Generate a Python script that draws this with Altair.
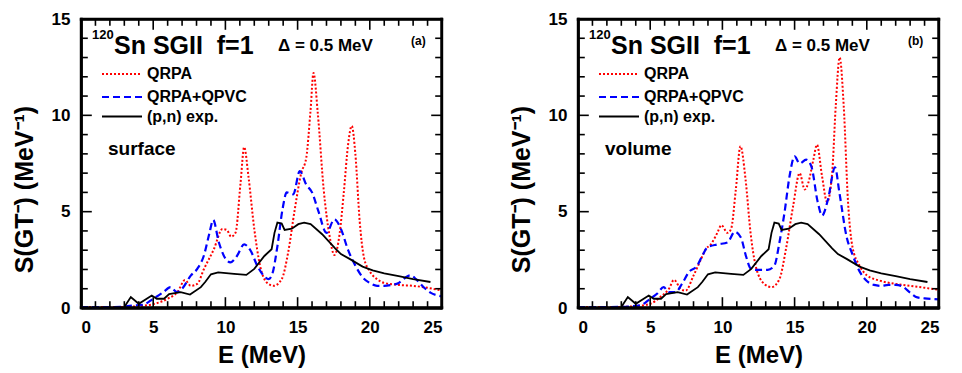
import altair as alt
import pandas as pd

# ---------------- data ----------------
# (a) surface pairing
E_qrpa_a = [0, 1, 2, 3, 4, 5, 6, 6.7, 7.2, 7.6, 8.05, 8.5, 9.2, 9.8, 10.1, 10.4, 10.7, 11.05, 11.3, 11.6,
            12.0, 12.4, 12.9, 13.35, 13.9, 14.35, 14.8, 15.25, 15.6, 15.9, 16.1, 16.4, 16.8, 17.2, 17.55,
            17.9, 18.2, 18.5, 18.75, 19.0, 19.3, 19.6, 20.0, 20.5, 21.0, 22.0, 23.0, 24.0, 25.0]
S_qrpa_a = [0.05, 0.05, 0.05, 0.06, 0.1, 0.2, 0.48, 0.85, 1.45, 1.15, 1.25, 2.0, 3.05, 4.1, 4.05, 3.7, 3.9, 6.5, 8.35, 6.8,
            4.1, 2.2, 1.3, 1.15, 1.5, 2.9, 5.1, 7.0, 7.8, 10.3, 12.2, 10.1, 6.2, 3.8, 2.75,
            3.8, 6.0, 8.5, 9.45, 8.0, 4.5, 2.6, 1.9, 1.5, 1.3, 1.2, 1.15, 1.05, 0.9]

E_qpvc_a = [0, 1, 2, 3, 3.2, 4.3, 5.0, 5.7, 6.2, 6.65, 7.0, 7.6, 8.05, 8.5, 8.9, 9.15, 9.55, 9.9, 10.35,
            10.8, 11.3, 11.75, 12.2, 12.65, 13.0, 13.25, 13.6, 13.95, 14.25, 14.7, 15.15, 15.6, 16.0,
            16.45, 17.0, 17.55, 18.0, 18.5, 19.0, 19.5, 20.0, 20.5, 21.0, 21.5, 22.0, 22.5, 22.8, 23.2,
            23.7, 24.2, 25.0]
S_qpvc_a = [0.05, 0.05, 0.05, 0.06, 0.1, 0.17, 0.48, 0.82, 1.08, 0.82, 1.0, 1.68, 2.03, 2.7, 3.9, 4.57, 3.4, 2.7, 2.37,
            2.7, 3.3, 2.97, 2.2, 1.68, 1.5, 1.77, 3.2, 5.1, 6.0, 5.9, 7.1, 6.4, 6.0,
            5.0, 3.9, 4.6, 4.1, 3.0, 2.2, 1.6, 1.3, 1.15, 1.15, 1.2, 1.3, 1.6, 1.7, 1.5,
            1.1, 0.8, 0.6]

# (b) volume pairing
E_qrpa_b = [0, 1, 2, 3, 4, 5, 5.7, 6.3, 6.65, 7.1, 7.45, 8.0, 8.5, 8.85, 9.2, 9.65, 9.93, 10.35, 10.6,
            10.93, 11.25, 11.6, 11.95, 12.3, 12.9, 13.4, 13.95, 14.4, 14.9, 15.35, 15.7, 15.95, 16.3,
            16.55, 16.9, 17.25, 17.6, 17.85, 18.12, 18.4, 18.7, 19.0, 19.5, 20.0, 21.0, 22.0, 23.0,
            24.0, 25.0]
S_qrpa_b = [0.05, 0.05, 0.05, 0.06, 0.1, 0.22, 0.57, 1.0, 1.46, 1.0, 0.9, 1.68, 2.5, 3.05, 3.3, 3.9, 4.3, 3.9, 4.1,
            6.15, 8.4, 6.7, 3.9, 2.2, 1.25, 1.08, 1.5, 3.05, 5.3, 7.0, 6.15, 6.5, 7.7,
            8.47, 6.84, 5.5, 7.0, 10.5, 13.0, 10.5, 5.5, 3.2, 2.2, 1.7, 1.4, 1.25, 1.15,
            1.05, 0.95]

E_qpvc_b = [0, 1, 2, 3, 4.3, 5.0, 5.47, 5.93, 6.28, 6.74, 7.2, 7.67, 8.26, 8.6, 8.95, 9.65, 10.35, 10.86,
            11.28, 11.63, 11.98, 12.33, 13.14, 13.6, 13.95, 14.3, 14.65, 15.0, 15.35, 15.8, 16.16,
            16.6, 16.9, 17.3, 17.8, 18.1, 18.6, 19.0, 19.5, 20.0, 20.5, 21.0, 21.5, 22.0, 22.5, 23.0,
            23.5, 24.0, 25.0]
S_qpvc_b = [0.05, 0.05, 0.05, 0.06, 0.14, 0.48, 0.74, 1.08, 0.82, 0.82, 1.25, 1.86, 2.2, 2.7, 3.14, 3.3, 3.4, 3.95,
            3.66, 2.7, 2.03, 1.98, 1.98, 2.2, 3.4, 4.95, 6.84, 7.87, 7.5, 7.7, 7.35,
            5.5, 4.8, 5.6, 7.3, 6.0, 3.7, 2.8, 1.9, 1.4, 1.2, 1.15, 1.2, 1.2, 1.1, 0.8,
            0.55, 0.5, 0.45]

# (p,n) experiment (same in both panels)
E_exp = [3.0, 3.45, 4.0, 4.9, 5.25, 5.75, 6.1, 6.9, 7.55, 8.3, 8.6, 9.0, 9.5, 10.6, 11.45, 12.0, 12.7,
         13.2, 13.4, 13.6, 13.9, 14.1, 14.6, 15.05, 15.45, 15.9, 16.7, 17.6, 18.0, 18.6, 19.5, 20.2,
         21.0, 22.0, 23.0, 24.2]
S_exp = [0.05, 0.57, 0.22, 0.65, 0.48, 0.48, 0.72, 0.82, 0.7, 1.08, 1.35, 1.75, 1.85, 1.77, 1.72, 2.03, 2.7,
         3.05, 3.9, 4.43, 4.38, 4.05, 4.12, 4.35, 4.43, 4.35, 3.83, 3.1, 2.8, 2.55, 2.15, 1.95,
         1.8, 1.65, 1.5, 1.35]

x_major = [0, 5, 10, 15, 20, 25]
y_major = [0, 5, 10, 15]
x_minor = [i for i in range(26) if i % 5]
y_minor = [i for i in range(16) if i % 5]

legend_labels = ["QRPA", "QRPA+QPVC", "(p,n) exp."]

# ---------------- chart ----------------
W, H = 361, 289
FONT = "Liberation Sans"
RED, BLUE = "#ff0000", "#0000ff"
NB = "\u00a0"
XMAX, YMAX = 25.0, 15.0

xs = alt.Scale(domain=[0, XMAX], nice=False, zero=False)
ys = alt.Scale(domain=[0, YMAX], nice=False)

one = pd.DataFrame({"a": [0]})


def txt(t, x, y, size, align="left", baseline="alphabetic", weight="bold"):
    return alt.Chart(one).mark_text(text=t, font=FONT, fontSize=size, fontWeight=weight,
                                    align=align, baseline=baseline, color="black").encode(
        x=alt.value(x), y=alt.value(y))


def seg(x1, y1, x2, y2, w=1.6):
    enc = dict(x=alt.value(x1), y=alt.value(y1))
    if x2 != x1:
        enc["x2"] = alt.value(x2)
    if y2 != y1:
        enc["y2"] = alt.value(y2)
    return alt.Chart(one).mark_rule(color="#000000", stroke="#000000", strokeWidth=w,
                                    strokeCap="square", opacity=1).encode(**enc)


def frame_and_ticks():
    out = [seg(0, 0.5, W, 0.5, 2.4), seg(0, H - 0.5, W, H - 0.5, 2.4),
           seg(0.5, 0, 0.5, H, 2.4), seg(W - 0.5, 0, W - 0.5, H, 2.4)]
    for v in x_major + x_minor:
        L = 10 if v in x_major else 6
        p = v / XMAX * W
        out.append(seg(p, H - 1, p, H - L))
        out.append(seg(p, 1, p, L))
    for v in y_major + y_minor:
        L = 10 if v in y_major else 6
        p = H - v / YMAX * H
        out.append(seg(1, p, L, p))
        out.append(seg(W - 1, p, W - L, p))
    return out


def panel(e_q, s_q, e_v, s_v, tag, label):
    xaxis = alt.Axis(values=x_major, format="d", ticks=False, domain=True, domainColor="black",
                     domainWidth=2.4, grid=False,
                     labelPadding=11, labelFont=FONT, labelFontSize=17, labelFontWeight="bold",
                     labelColor="black", title="E (MeV)", titleFont=FONT, titleFontSize=24,
                     titleFontWeight="bold", titleColor="black", titlePadding=8)
    yaxis = alt.Axis(values=y_major, format="d", ticks=False, domain=True, domainColor="black",
                     domainWidth=2.4, grid=False,
                     labelPadding=11, labelFont=FONT, labelFontSize=17, labelFontWeight="bold",
                     labelColor="black", title="S(GT⁻) (MeV⁻¹)", titleFont=FONT, titleFontSize=25,
                     titleFontWeight="bold", titleColor="black", titlePadding=14, titleY=170)
    red = alt.Chart(pd.DataFrame({"E": e_q, "S": s_q})).mark_line(
        color=RED, strokeDash=[2, 2], strokeWidth=2, interpolate="monotone").encode(
        x=alt.X("E:Q", scale=xs, axis=xaxis), y=alt.Y("S:Q", scale=ys, axis=yaxis))
    blue = alt.Chart(pd.DataFrame({"E": e_v, "S": s_v})).mark_line(
        color=BLUE, strokeDash=[7, 4], strokeWidth=2.2, interpolate="monotone").encode(
        x="E:Q", y="S:Q")
    black = alt.Chart(pd.DataFrame({"E": E_exp, "S": S_exp})).mark_line(
        color="black", strokeWidth=1.8).encode(x="E:Q", y="S:Q")

    # legend
    leg = [
        alt.Chart(one).mark_rule(color=RED, strokeDash=[2, 2], strokeWidth=2).encode(
            x=alt.value(21), x2=alt.value(61), y=alt.value(55)),
        alt.Chart(one).mark_rule(color=BLUE, strokeDash=[7, 4], strokeWidth=2.2).encode(
            x=alt.value(21), x2=alt.value(61), y=alt.value(78)),
        alt.Chart(one).mark_rule(color="black", strokeWidth=1.8).encode(
            x=alt.value(21), x2=alt.value(61), y=alt.value(97.5)),
        txt(legend_labels[0], 66, 55, 16, baseline="middle"),
        txt(legend_labels[1], 66, 78, 16, baseline="middle"),
        txt(legend_labels[2], 66, 97.5, 16, baseline="middle"),
    ]
    ann = [
        txt("120", 11, 20, 13),
        txt("Sn SGII" + NB + NB + "f=1", 33, 35, 25),
        txt("Δ = 0.5 MeV", 197, 32, 17),
        txt(tag, 330, 26, 12),
        txt(label, 27, 136, 19),
    ]
    return alt.layer(red, blue, black, *frame_and_ticks(), *leg, *ann).properties(width=W, height=H)


left = panel(E_qrpa_a, S_qrpa_a, E_qpvc_a, S_qpvc_a, "(a)", "surface")
right = panel(E_qrpa_b, S_qrpa_b, E_qpvc_b, S_qpvc_b, "(b)", "volume")

chart = alt.hconcat(left, right, spacing=59).properties(
    padding={"left": 2, "top": 0, "right": 0, "bottom": 0}, background="white"
).configure_view(stroke="black", strokeWidth=2.4)

chart.save("out.html", embed_options={"renderer": "svg", "actions": False})
